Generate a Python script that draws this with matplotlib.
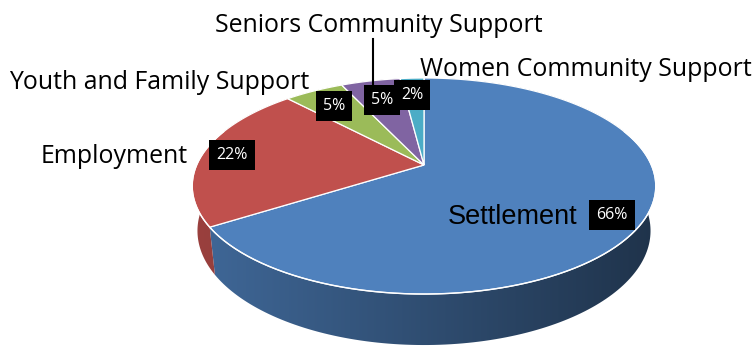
import numpy as np
import matplotlib.pyplot as plt
from matplotlib.patches import Polygon

# Data
labels = ['Settlement', 'Employment', 'Youth and Family Support',
          'Seniors Community Support', 'Women Community Support']
values = [66, 22, 5, 5, 2]
colors = ['#4F81BD', '#C0504D', '#9BBB59', '#8064A2', '#4BACC6']

# perspective set-up (pixel coordinates of the figure)
cx, cy = 424, 165
F = 1039.0
phi = np.radians(27.2)
d0 = 4.57
h = 0.223
s, c = np.sin(phi), np.cos(phi)


def project(x, y, z):
    D = d0 + y * c - z * s
    up = y * s + z * c
    return cx + F * x / D, cy - F * up / D


def rgb(hexc):
    hexc = hexc.lstrip('#')
    return np.array([int(hexc[i:i + 2], 16) for i in (0, 2, 4)]) / 255.0


fig = plt.figure(figsize=(7.56, 3.47), dpi=100)
ax = fig.add_axes([0, 0, 1, 1])
ax.set_xlim(0, 756)
ax.set_ylim(347, 0)
ax.axis('off')

fracs = np.array(values) / sum(values)
bounds = np.concatenate([[0], np.cumsum(fracs)])
# clockwise from 12 o'clock
angles = np.radians(90 - 360 * bounds)

# horizontal shading for the sides: lighter on the left, darker on the right
gx = np.linspace(0, 756, 400)
shade = 0.8 - np.clip((gx - 200) / 450, 0, 1) * 0.4

# sides, one clipped gradient per slice
for i in range(len(values)):
    th = np.linspace(angles[i], angles[i + 1], 200)
    top = [project(np.cos(t), np.sin(t), 0) for t in th]
    bot = [project(np.cos(t), np.sin(t), -h) for t in th[::-1]]
    poly = Polygon(top + bot, closed=True, facecolor='none', edgecolor='none')
    ax.add_patch(poly)
    img = np.clip(rgb(colors[i])[None, None, :] * shade[None, :, None], 0, 1)
    im = ax.imshow(img, extent=(0, 756, 347, 0), aspect='auto', interpolation='bilinear')
    im.set_clip_path(poly)

# top face
for i in range(len(values)):
    th = np.linspace(angles[i], angles[i + 1], max(8, int(values[i] * 6)))
    pts = [project(0, 0, 0)] + [project(np.cos(t), np.sin(t), 0) for t in th]
    ax.add_patch(Polygon(pts, closed=True, facecolor=colors[i], edgecolor='white', lw=0.9, zorder=3))

# white rim along the front edge
th = np.linspace(np.radians(-200), np.radians(20), 200)
rim = np.array([project(np.cos(t), np.sin(t), 0) for t in th])
ax.plot(rim[:, 0], rim[:, 1], color='white', lw=1.0, zorder=4)
ax.set_xlim(0, 756)
ax.set_ylim(347, 0)

# category labels
big = dict(fontsize=17.9, family=['Open Sans', 'DejaVu Sans'], color='black', zorder=5)
ax.text(379, 32, 'Seniors Community Support', ha='center', va='baseline', **big)
ax.text(420, 76, 'Women Community Support', ha='left', va='baseline', **big)
ax.text(9, 89, 'Youth and Family Support', ha='left', va='baseline', **big)
ax.text(41, 163, 'Employment', ha='left', va='baseline', **big)
ax.text(448, 224, 'Settlement', ha='left', va='baseline', fontsize=19.5,
        family=['Liberation Sans', 'DejaVu Sans'], color='black', zorder=5)

# leader line for seniors
ax.plot([373, 373], [39, 89], color='black', lw=1.5, zorder=5)

# percentage boxes
pct_pos = [(612, 215), (232, 155), (334, 106), (382, 100), (412, 95)]
for v, (px, py) in zip(values, pct_pos):
    ax.text(px, py, f'{v}%', ha='center', va='center', color='white', fontsize=11.5,
            family=['Open Sans', 'DejaVu Sans'], zorder=6,
            bbox=dict(boxstyle='square,pad=0.45', facecolor='black', edgecolor='none'))

fig.savefig('out.png', dpi=100)
